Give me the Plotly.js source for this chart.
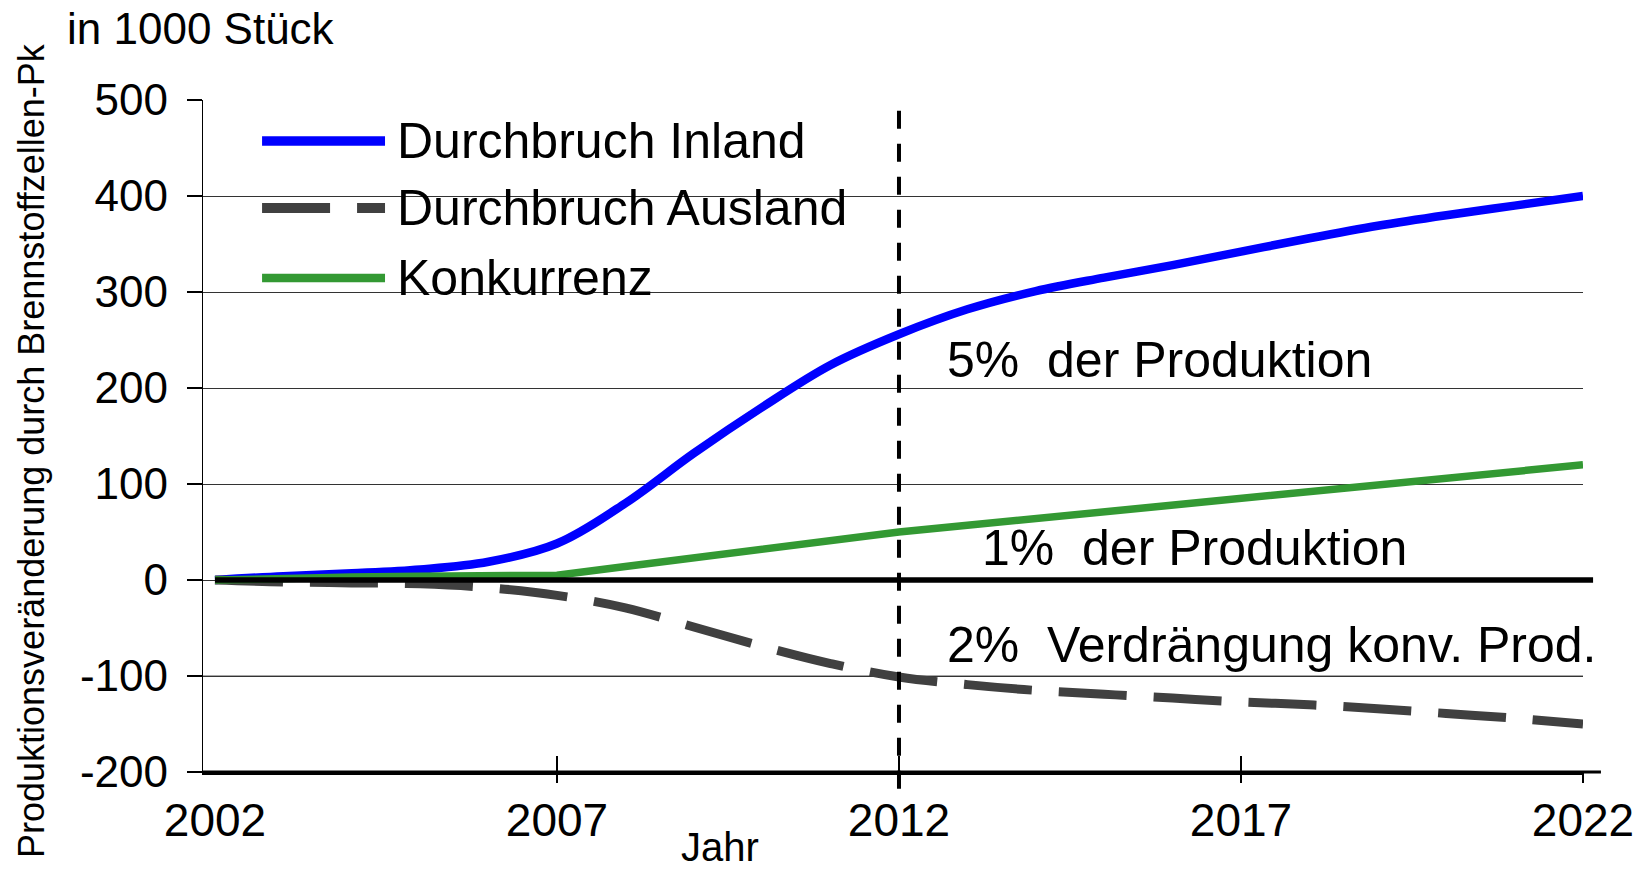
<!DOCTYPE html>
<html>
<head>
<meta charset="utf-8">
<script src="https://cdn.plot.ly/plotly-3.0.1.min.js"></script>
<style>
  html, body { margin: 0; padding: 0; background: #ffffff; }
  #chart { width: 1652px; height: 872px; }
</style>
</head>
<body>
<div id="chart"></div>
<script>
// ---- data ----
const years = [2002, 2003, 2004, 2005, 2006, 2007, 2008, 2009, 2010, 2011, 2012,
               2013, 2014, 2015, 2016, 2017, 2018, 2019, 2020, 2021, 2022];
const inland = [0, 4, 7, 11, 19, 38, 80, 132, 180, 224, 256,
                282, 301, 315, 328, 342, 356, 369, 380, 390, 400];
const ausland = [0, -2, -3, -4, -8, -16, -29, -49, -69, -87, -101,
                 -109, -115, -119, -123, -127, -130, -134, -139, -144, -150];
const konkurrenz = [0, 2, 3, 4, 4, 5, 14, 23, 32, 41, 50,
                    57, 64, 71, 78, 85, 92, 99, 106, 113, 120];
const seriesNames = ["Durchbruch Inland", "Durchbruch Ausland", "Konkurrenz"];
const xTickVals = [2002, 2007, 2012, 2017, 2022];
const xTickLabels = ["2002", "2007", "2012", "2017", "2022"];
const xTickMarks = [2007, 2012, 2017, 2022];
const yTickVals = [-200, -100, 0, 100, 200, 300, 400, 500];
const yTickLabels = ["-200", "-100", "0", "100", "200", "300", "400", "500"];
const markerYear = 2012;
const noteTexts = ["5%\u00a0 der Produktion", "1%\u00a0 der Produktion", "2%\u00a0 Verdrängung konv. Prod."];
const yTitle = "Produktionsveränderung durch Brennstoffzellen-Pk";
const unitText = "in 1000 Stück";
const xTitle = "Jahr";

// ---- styles ----
const FONT = "Liberation Sans, Arial, sans-serif";
const colors = ["#0000ff", "#404040", "#339933"];
const widths = [8.5, 9, 7.5];
const dashes = ["solid", "68px,27px", "solid"];
const xMin = 2001.825, xMax = 2022, yMin = -200, yMax = 500;
const xp = v => (v - xMin) / (xMax - xMin);
const yp = v => (v - yMin) / (yMax - yMin);

const seriesData = [inland, ausland, konkurrenz];
const lineShapes = ["spline", "spline", "linear"];
const traces = seriesData.map((ys, i) => ({
  type: "scatter", mode: "lines", x: years, y: ys, name: seriesNames[i],
  line: { color: colors[i], width: widths[i], dash: dashes[i], shape: lineShapes[i], smoothing: 1.0 },
  hoverinfo: "x+y+name", showlegend: false
}));
// empty helper traces hosting overlay axes that draw the crossing tick marks
traces.push({ type: "scatter", mode: "lines", x: [], y: [], xaxis: "x2", yaxis: "y", showlegend: false, hoverinfo: "skip" });
traces.push({ type: "scatter", mode: "lines", x: [], y: [], xaxis: "x3", yaxis: "y", showlegend: false, hoverinfo: "skip" });

const shapes = [];
// lighter gridline at -100
shapes.push({ type: "line", layer: "between", xref: "paper", yref: "paper",
  x0: 0, x1: 1, y0: yp(-100), y1: yp(-100), line: { color: "#8a8a8a", width: 1.5 } });
// legend box (white, covers gridlines)
shapes.push({ type: "rect", layer: "between", xref: "paper", yref: "paper",
  x0: 0.0268, x1: 0.4862, y0: 0.6875, y1: 0.986, fillcolor: "#ffffff", line: { width: 0 } });
// legend rows
const legRowY = [0.939, 0.8393, 0.7351];
const legendOrder = [0, 1, 2];
legendOrder.forEach((si, r) => {
  shapes.push({ type: "line", layer: "above", xref: "paper", yref: "paper",
    x0: 0.0428, x1: 0.1319, y0: legRowY[r], y1: legRowY[r],
    line: { color: colors[si], width: widths[si] + 1, dash: dashes[si] } });
});
// zero line
shapes.push({ type: "line", layer: "above", xref: "paper", yref: "paper",
  x0: xp(2002), x1: 1.0073, y0: yp(0), y1: yp(0), line: { color: "#000000", width: 5.5 } });
// x axis line extension beyond the plot
shapes.push({ type: "line", layer: "above", xref: "paper", yref: "paper",
  x0: 0, x1: 1.013, y0: 0, y1: 0, line: { color: "#000000", width: 3 } });
// vertical dashed marker at 2012 (drawn from top down)
shapes.push({ type: "line", layer: "above", xref: "paper", yref: "paper",
  x0: xp(markerYear), x1: xp(markerYear), y0: 0.984, y1: -0.027,
  line: { color: "#000000", width: 4, dash: "18px,15px" } });

const annotations = [];
legendOrder.forEach((si, r) => {
  annotations.push({ xref: "paper", yref: "paper", x: 0.1391, y: legRowY[r],
    xanchor: "left", yanchor: "middle", showarrow: false, text: seriesNames[si],
    font: { family: FONT, size: 50, color: "#000000" } });
});
const notePos = [[2012.67, 229], [2013.18, 33], [2012.67, -68]];
noteTexts.forEach((t, i) => {
  annotations.push({ xref: "x", yref: "y", x: notePos[i][0], y: notePos[i][1],
    xanchor: "left", yanchor: "middle", showarrow: false, text: t,
    font: { family: FONT, size: 50, color: "#000000" } });
});
annotations.push({ xref: "paper", yref: "paper", x: -0.1239, y: 0.4777, textangle: -90,
  xanchor: "center", yanchor: "middle", showarrow: false, text: yTitle,
  font: { family: FONT, size: 36, color: "#000000" } });
annotations.push({ xref: "paper", yref: "paper", x: -0.1, y: 1.107,
  xanchor: "left", yanchor: "middle", showarrow: false, text: unitText,
  font: { family: FONT, size: 44, color: "#000000" } });
annotations.push({ xref: "paper", yref: "paper", x: 0.3746, y: -0.112,
  xanchor: "center", yanchor: "middle", showarrow: false, text: xTitle,
  font: { family: FONT, size: 40, color: "#000000" } });

const tickOverlay = (ticks, len) => ({
  overlaying: "x", matches: "x", anchor: "y", side: "bottom",
  tickmode: "array", tickvals: xTickMarks, showticklabels: false,
  showgrid: false, zeroline: false, showline: false,
  ticks: ticks, ticklen: len, tickwidth: 1.8, tickcolor: "#000000"
});

const layout = {
  width: 1652, height: 872,
  margin: { l: 203, r: 69, t: 100, b: 100, pad: 0 },
  paper_bgcolor: "#ffffff", plot_bgcolor: "#ffffff",
  font: { family: FONT, color: "#000000" },
  showlegend: false,
  xaxis: {
    range: [xMin, xMax], tickmode: "array", tickvals: xTickVals, ticktext: xTickLabels,
    showgrid: false, zeroline: false, showline: true, linecolor: "#000000", linewidth: 3,
    ticks: "", ticklabelstandoff: 6,
    tickfont: { family: FONT, size: 46, color: "#000000" }, fixedrange: true
  },
  xaxis2: tickOverlay("inside", 16),
  xaxis3: tickOverlay("outside", 10),
  yaxis: {
    range: [yMin, yMax], tickmode: "array", tickvals: yTickVals, ticktext: yTickLabels,
    showgrid: true, gridcolor: "#333333", gridwidth: 1, zeroline: false,
    showline: true, linecolor: "#000000", linewidth: 1.2,
    ticks: "outside", ticklen: 15, tickwidth: 1.2, tickcolor: "#000000", ticklabelstandoff: 10,
    tickfont: { family: FONT, size: 44, color: "#000000" }, fixedrange: true
  },
  shapes: shapes,
  annotations: annotations
};

Plotly.newPlot("chart", traces, layout, { displayModeBar: false, staticPlot: true });
</script>
</body>
</html>
